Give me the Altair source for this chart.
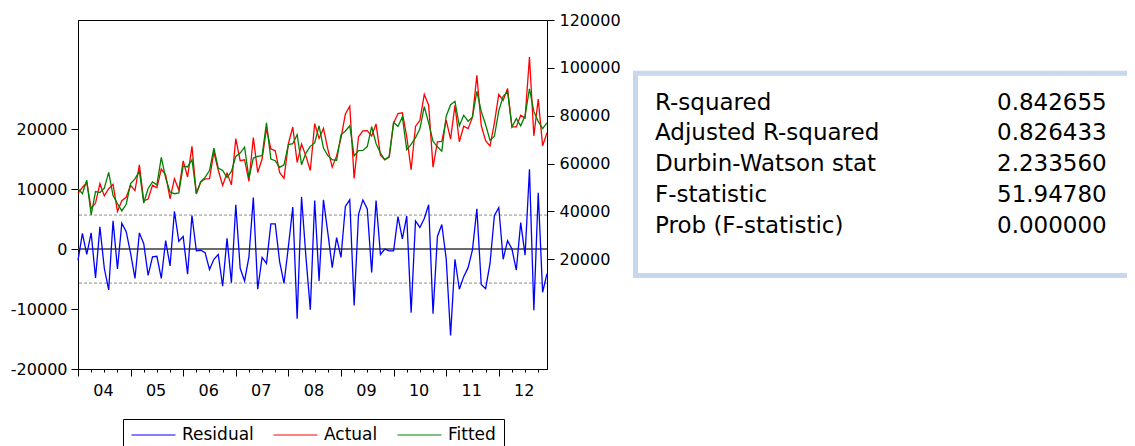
import altair as alt
import pandas as pd

# ---------------- data ----------------
months = list(range(108))  # monthly observations 2004M01 .. 2012M12

residual = [
    -1900, 2600, -900, 2700, -4800, 3700, -3200, -6800, 4700, -3300, 4300, 2900,
    -700, -4900, 2700, 900, -4400, -1300, -1200, -4900, 1400, -2800, 6300, 1300,
    2100, -4200, 5600, -300, -200, -600, -3400, -1700, -900, -6200, 1800, -5600,
    7400, -3200, -5300, -1300, 8600, -6700, -1400, -2400, 4200, 4200, -2100, -5700,
    400, 7000, -11600, 8700, -1300, -10100, 8100, -5300, 8200, 2700, -3100, 1900,
    -1400, 7100, 8200, -9400, 5800, 8200, 6700, -3900, 8100, -900, 0, -300,
    -300, 5400, 1700, 5500, -10600, 4700, 3600, 5100, 7400, -10800, 2100, 4100,
    -1600, -14400, -1700, -6700, -4600, -3100, -100, 6700, -5900, -6600, -2400, 5600,
    6900, -1700, 1400, 0, -3500, 4400, -1000, 13300, -10200, 9400, -7200, -4100,
]

actual = [
    47600, 50000, 52100, 41300, 43500, 51600, 46500, 49500, 51300, 40000, 44500, 45900,
    50900, 48700, 59500, 44400, 45200, 51000, 49900, 57700, 55300, 45300, 53700, 49000,
    61100, 54400, 67200, 47300, 52300, 53600, 53700, 64800, 57200, 50900, 56000, 51100,
    70400, 61200, 61600, 52600, 70900, 56300, 61900, 74600, 66100, 65400, 56300, 53800,
    68300, 75300, 60500, 68200, 63100, 57100, 76700, 70500, 74700, 66000, 58500, 63200,
    70600, 80700, 84000, 53800, 71200, 73700, 73800, 71500, 76500, 63500, 61600, 62700,
    76900, 80900, 81200, 71300, 57400, 75500, 78100, 88900, 84400, 58500, 69100, 69300,
    78200, 70200, 84300, 69100, 75600, 74600, 79400, 96900, 75900, 69600, 67300, 77000,
    88900, 86400, 91400, 75300, 75300, 80200, 79000, 104500, 71600, 87000, 67400, 72900,
]

fitted = [
    49500, 47400, 53000, 38600, 48300, 47900, 49700, 56300, 46600, 43300, 40200, 43000,
    51600, 53600, 56800, 43500, 49600, 52300, 51100, 62600, 53900, 48100, 47400, 47700,
    59000, 58600, 61600, 47600, 52500, 54200, 57100, 66500, 58100, 57100, 54200, 56700,
    63000, 64400, 66900, 53900, 62300, 63000, 63300, 77000, 61900, 61200, 58400, 59500,
    67900, 68300, 72100, 59500, 64400, 67200, 68600, 75800, 66500, 63300, 61600, 61300,
    72000, 73600, 75800, 63200, 65400, 65500, 67100, 75400, 68400, 64400, 61600, 63000,
    77200, 75500, 79500, 65800, 68000, 70800, 74500, 83800, 77000, 69300, 67000, 65200,
    79800, 84600, 86000, 75800, 80200, 77700, 79500, 90200, 81800, 76200, 69700, 71400,
    82000, 88100, 90000, 75300, 78800, 75800, 80000, 91200, 81800, 77600, 74600, 77000,
]

series_names = ["Residual", "Actual", "Fitted"]
series_colors = ["#0000FF", "#FF0000", "#008000"]

zero_level = [0]
band_levels = [5670, -5670]  # +/- 1 S.E. of regression

left_ticks = [-20000, -10000, 0, 10000, 20000]
right_ticks = [20000, 40000, 60000, 80000, 100000, 120000]
quarter_ticks = list(range(0, 108, 3))

stat_names = ["R-squared", "Adjusted R-squared", "Durbin-Watson stat",
              "F-statistic", "Prob (F-statistic)"]
stat_values = ["0.842655", "0.826433", "2.233560", "51.94780", "0.000000"]

# ---------------- tables ----------------
rows = []
for name, vals in zip(series_names, [residual, actual, fitted]):
    for t, v in zip(months, vals):
        rows.append({"t": t, "value": v, "series": name})
long_df = pd.DataFrame(rows)
zero_df = pd.DataFrame({"value": zero_level})
band_df = pd.DataFrame({"value": band_levels})
stats_df = pd.DataFrame({"name": stat_names, "stat": stat_values})
box_df = pd.DataFrame({"k": [0]})

FONT = "DejaVu Sans"
LW = 1.3

x_enc = alt.X(
    "t:Q",
    scale=alt.Scale(domain=[0, 107], nice=False, zero=False),
    title=None,
    axis=alt.Axis(
        values=quarter_ticks,
        tickSize={"condition": {"test": "datum.value % 12 === 0", "value": 7}, "value": 3},
        labelExpr="datum.value % 12 === 0 ? ((4 + datum.value / 12) < 10 ? '0' + (4 + datum.value / 12) : '' + (4 + datum.value / 12)) : ''",
        labelOffset=25,
        labelFlush=False,
        labelOverlap=False,
        labelPadding=6,
        grid=False,
    ),
)

left_scale = alt.Scale(domain=[-20000, 38200], nice=False, zero=False)
left_axis = alt.Axis(values=left_ticks, labelExpr="'' + datum.value", orient="left",
                     tickSize=7, labelPadding=4, grid=False)
right_scale = alt.Scale(domain=[-25850, 120000], nice=False, zero=False)
right_axis = alt.Axis(values=right_ticks, labelExpr="'' + datum.value", orient="right",
                      tickSize=7, labelPadding=5, grid=False)

color_enc = alt.Color(
    "series:N",
    scale=alt.Scale(domain=series_names, range=series_colors),
    legend=alt.Legend(
        title=None,
        orient="none",
        legendX=45,
        legendY=399,
        direction="horizontal",
        columns=3,
        symbolType="stroke",
        symbolSize=1936,
        symbolStrokeWidth=1,
        clipHeight=16,
        labelFont=FONT,
        labelFontSize=17,
        labelColor="black",
        labelOffset=6,
        columnPadding=19,
        padding=8,
        strokeColor="black",
        fillColor="white",
    ),
)

base = alt.Chart(long_df)

zero_rule = alt.Chart(zero_df).mark_rule(color="#3a3a3a", strokeWidth=1.5).encode(
    y=alt.Y("value:Q", scale=left_scale, axis=left_axis, title=None)
)
band_rules = alt.Chart(band_df).mark_rule(color="#8c8c8c", strokeWidth=1, strokeDash=[3, 2]).encode(
    y=alt.Y("value:Q", scale=left_scale, axis=left_axis, title=None)
)
resid_line = base.transform_filter("datum.series === 'Residual'").mark_line(strokeWidth=LW).encode(
    x=x_enc,
    y=alt.Y("value:Q", scale=left_scale, axis=left_axis, title=None),
    color=color_enc,
)
left_layer = alt.layer(zero_rule, band_rules, resid_line)

actual_line = base.transform_filter("datum.series === 'Actual'").mark_line(strokeWidth=LW).encode(
    x=x_enc,
    y=alt.Y("value:Q", scale=right_scale, axis=right_axis, title=None),
    color=color_enc,
)
fitted_line = base.transform_filter("datum.series === 'Fitted'").mark_line(strokeWidth=LW).encode(
    x=x_enc,
    y=alt.Y("value:Q", scale=right_scale, axis=right_axis, title=None),
    color=color_enc,
)
right_layer = alt.layer(actual_line, fitted_line)

stat_y = alt.Y("name:N", sort=stat_names,
               scale=alt.Scale(type="point", range=[89.5, 212.5], padding=0), axis=None)
box = alt.Chart(box_df).mark_rect(fill="white", stroke="#C6D7EE", strokeWidth=5).encode(
    x=alt.value(557.5), x2=alt.value(1110), y=alt.value(53.3), y2=alt.value(255.5)
)
names_text = alt.Chart(stats_df).mark_text(
    align="left", baseline="alphabetic", font=FONT, fontSize=23, color="black"
).encode(x=alt.value(577), y=stat_y, text="name:N")
values_text = alt.Chart(stats_df).mark_text(
    align="left", baseline="alphabetic", font=FONT, fontSize=23, color="black"
).encode(x=alt.value(919), y=stat_y, text="stat:N")
stats_layer = alt.layer(box, names_text, values_text)

chart = (
    alt.layer(left_layer, right_layer, stats_layer)
    .resolve_scale(y="independent")
    .properties(
        width=469,
        height=349,
        autosize=alt.AutoSizeParams(type="none"),
        padding={"left": 70, "top": 12, "right": 580, "bottom": 84},
        background="white",
    )
    .configure_view(stroke="black", strokeWidth=1)
    .configure_axis(
        labelFont=FONT,
        labelFontSize=16,
        labelColor="black",
        domainColor="black",
        tickColor="black",
        domainWidth=1,
        tickWidth=1,
        grid=False,
    )
)

chart.save("out.html", embed_options={"renderer": "svg", "actions": False})
